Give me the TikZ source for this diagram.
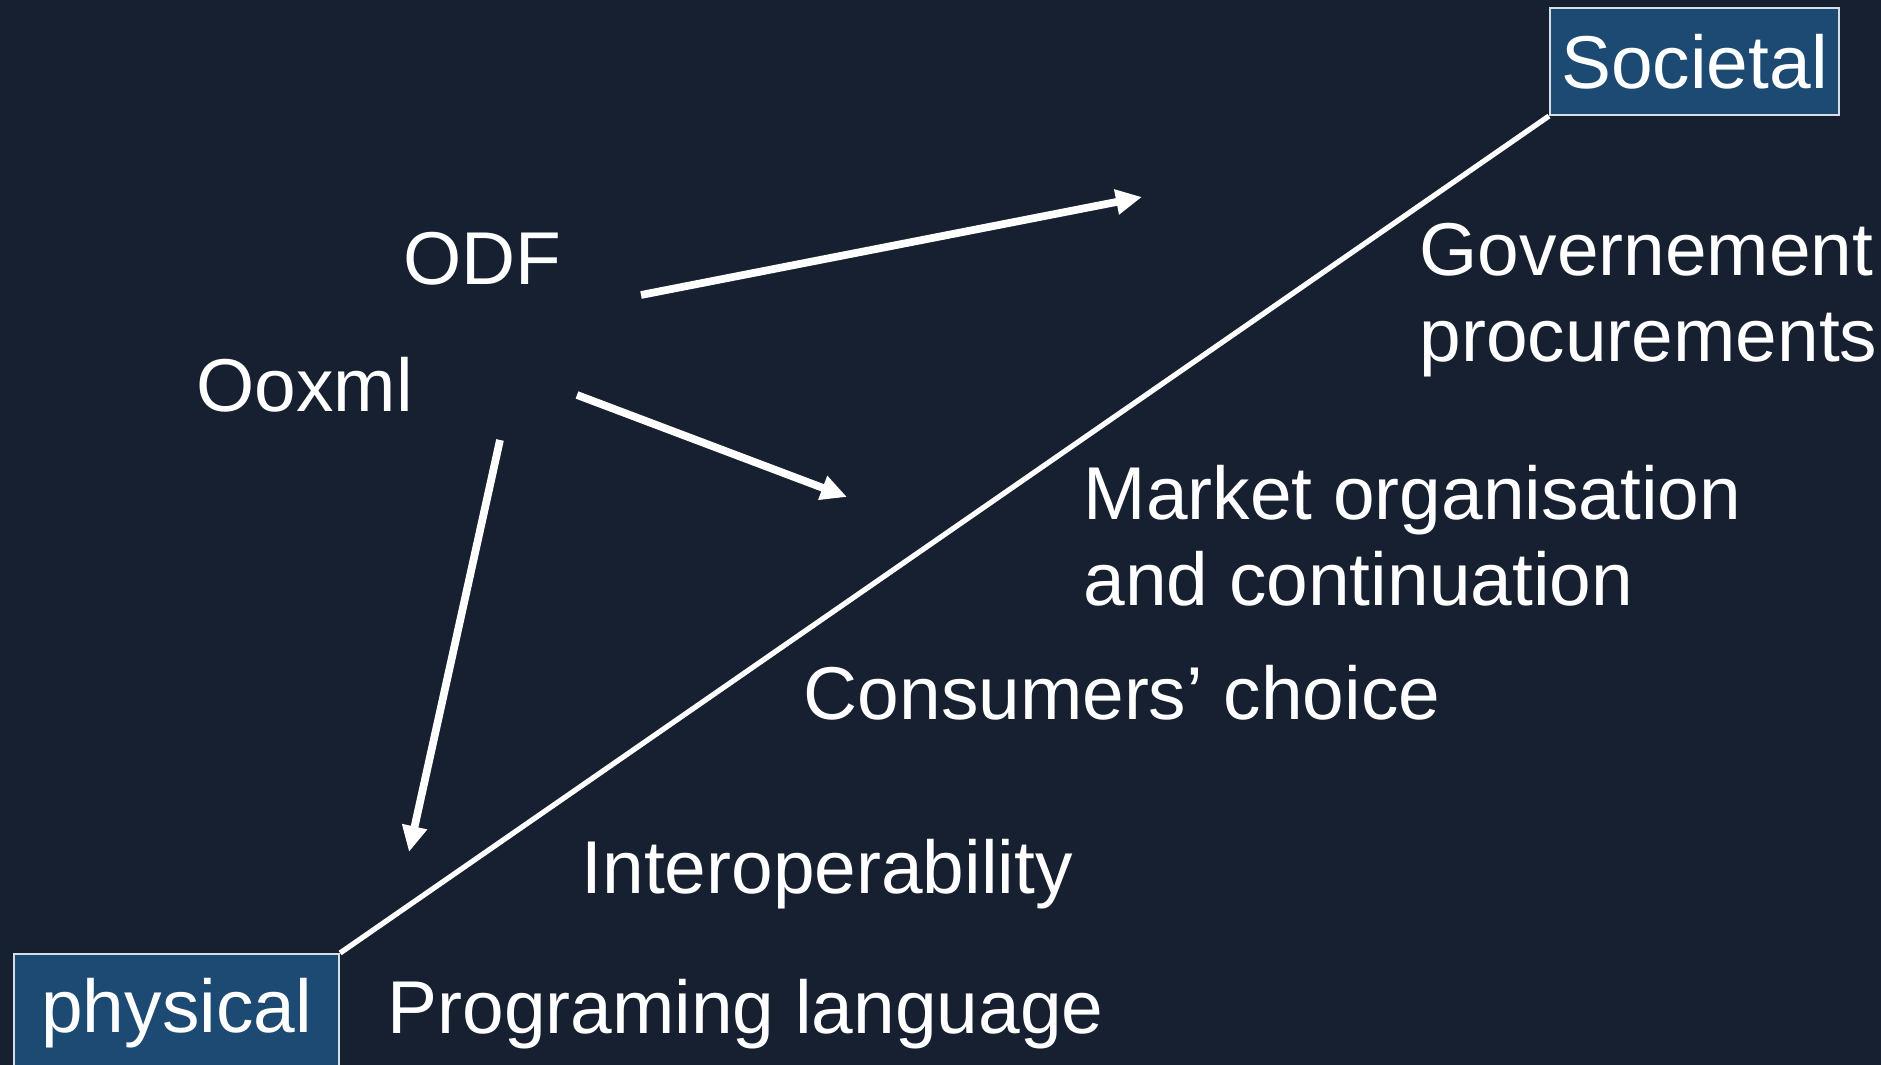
\documentclass[tikz,border=0pt]{standalone}
\usepackage{fontspec}
\setmainfont{Liberation Sans}
\usepackage{tikz}
\usetikzlibrary{arrows.meta}
\definecolor{slidebg}{RGB}{23,32,48}
\definecolor{boxblue}{RGB}{28,74,114}
\definecolor{boxline}{RGB}{215,222,230}
\tikzstyle{level} = [rectangle, draw=boxline, line width=0.6pt, fill=boxblue,
                 text=white, inner sep=0pt]
\tikzstyle{words} = [text=white, anchor=base west, inner sep=0pt, align=left]
\tikzstyle{axis} = [draw=white, line width=1.5pt]
\tikzstyle{arrowline} = [draw=white, line width=2.2pt,
                 -{Triangle[length=0.26cm,width=0.24cm]}]

\begin{document}
\begin{tikzpicture}[font=\fontsize{21.3pt}{24.6pt}\selectfont]

\clip (0,0) rectangle (18.81,10.65);
\fill [slidebg] (0,0) rectangle (18.81,10.65);

\node [level, minimum width=2.89cm, minimum height=1.07cm] at (16.945,10.035) (soc) {Societal};
\node [level, minimum width=3.25cm, minimum height=1.18cm, anchor=north west] at (0.13,1.12) (phys) {physical};

\path [axis] (phys.north east) -- (soc.south west);

% base = last line
\node [words] at (4.03,7.80) (odf) {ODF};
\node [words] at (1.96,6.53) (ooxml) {Ooxml};
\node [words] at (14.19,7.03) (gov) {Governement\\procurements};
\node [words] at (10.83,4.59) (market) {Market organisation\\and continuation};
\node [words] at (8.03,3.45) (consumers) {Consumers’ choice};
\node [words] at (5.81,1.71) (interop) {Interoperability};
\node [words] at (3.87,0.31) (prog) {Programing language};

\node (odfs) at (6.41,7.70){};
\node (odfe) at (11.42,8.68){};
\node (mkts) at (5.77,6.70){};
\node (mkte) at (8.47,5.68){};
\node (phys s) at (5.00,6.25){};
\node (phys e) at (4.09,2.13){};

\path [arrowline] (odfs.center) -- (odfe.center);
\path [arrowline] (mkts.center) -- (mkte.center);
\path [arrowline] (phys s.center) -- (phys e.center);

\end{tikzpicture}
\end{document}
